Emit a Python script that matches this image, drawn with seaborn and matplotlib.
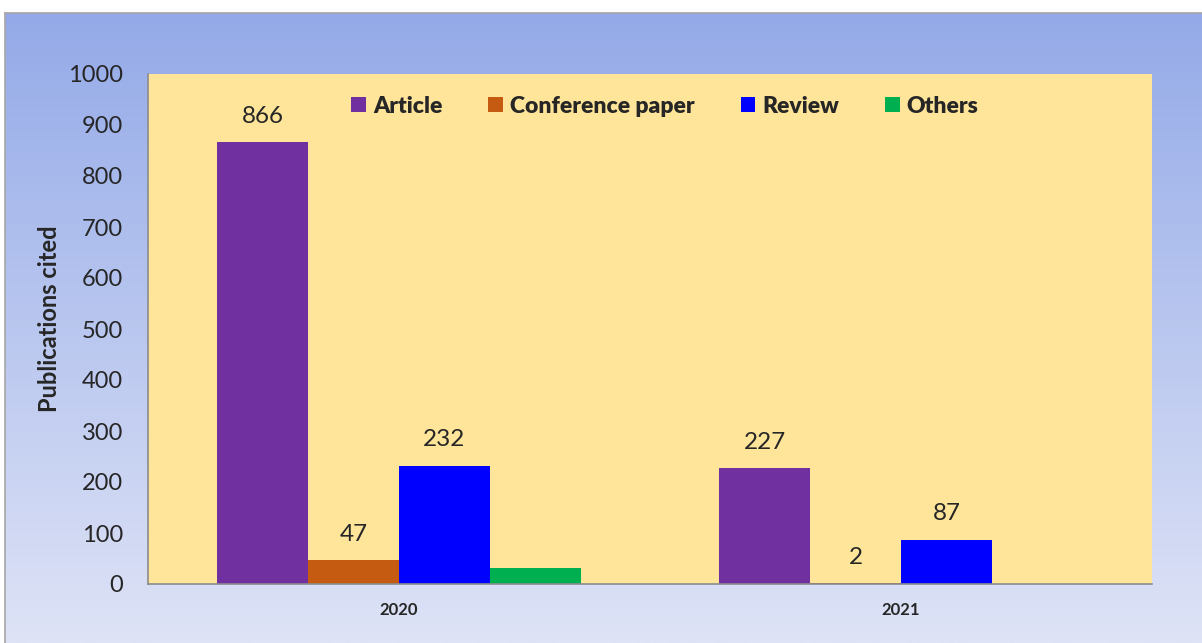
import numpy as np
import pandas as pd
import matplotlib
matplotlib.use("Agg")
import matplotlib.pyplot as plt
import seaborn as sns
from matplotlib.colors import LinearSegmentedColormap

years = ["2020", "2021"]
doc_types = ["Article", "Conference paper", "Review", "Others"]
article = [866, 227]
conference = [47, 2]
review = [232, 87]
others = [31, 0]
colors = ["#7030a0", "#c55a11", "#0000ff", "#00b050"]
yticks = [0, 100, 200, 300, 400, 500, 600, 700, 800, 900, 1000]

rows = []
for name, vals in zip(doc_types, [article, conference, review, others]):
    for y, v in zip(years, vals):
        rows.append({"year": y, "type": name, "value": v})
df = pd.DataFrame(rows)

sns.set_theme(style="white")
plt.rcParams["font.family"] = ["Lato", "DejaVu Sans"]

fig = plt.figure(figsize=(12.02, 6.43), dpi=100)
fig.patch.set_facecolor("white")

# gradient background frame
bg = fig.add_axes([5 / 1202, 0, 1 - 5 / 1202, 1 - 13 / 643], zorder=0)
cmap = LinearSegmentedColormap.from_list("bg", ["#94aae8", "#dee3f6"])
grad = np.linspace(0, 1, 256).reshape(-1, 1)
bg.imshow(grad, aspect="auto", cmap=cmap, extent=[0, 1, 0, 1], origin="upper")
bg.set_xlim(0, 1)
bg.set_ylim(0, 1)
bg.set_xticks([])
bg.set_yticks([])
for s in ["right", "bottom"]:
    bg.spines[s].set_visible(False)
for s in ["left", "top"]:
    bg.spines[s].set_color("#a6a6a6")
    bg.spines[s].set_linewidth(1.2)

ax = fig.add_axes([148 / 1202, 1 - 584 / 643, (1152 - 148) / 1202, (584 - 74) / 643], zorder=1)
ax.set_facecolor("#ffe599")
sns.barplot(data=df, x="year", y="value", hue="type", hue_order=doc_types,
            palette=colors, width=0.725, dodge=True, saturation=1, ax=ax,
            linewidth=0, errorbar=None)

ax.set_ylim(0, 1000)
ax.set_yticks(yticks)
ax.set_yticklabels([str(t) for t in yticks], fontsize=17)
ax.set_xlim(-0.5, 1.5)
ax.set_xlabel("")
for lbl in ax.get_xticklabels():
    lbl.set_fontweight("bold")
    lbl.set_fontsize(12)
ax.tick_params(axis="x", pad=13, length=0)
ax.tick_params(axis="y", pad=18, length=0)
ax.set_ylabel("Publications cited", fontsize=17, fontweight="bold")
ax.yaxis.set_label_coords(-0.087, 0.52)

for s in ["top", "right"]:
    ax.spines[s].set_visible(False)
for s in ["left", "bottom"]:
    ax.spines[s].set_color("#8c8c8c")
    ax.spines[s].set_linewidth(1.2)

for cont in ax.containers[:3]:
    ax.bar_label(cont, labels=[f"{int(b.get_height())}" for b in cont], padding=11, fontsize=17.5)

handles, labels = ax.get_legend_handles_labels()
leg = ax.legend(handles, labels, loc="center", bbox_to_anchor=(0.515, 0.937), ncol=4,
                frameon=False, handlelength=0.65, handleheight=0.65, handletextpad=0.3,
                columnspacing=2.0, prop={"weight": "heavy", "size": 16.5})

fig.savefig("out.png", dpi=100, facecolor=fig.get_facecolor())
